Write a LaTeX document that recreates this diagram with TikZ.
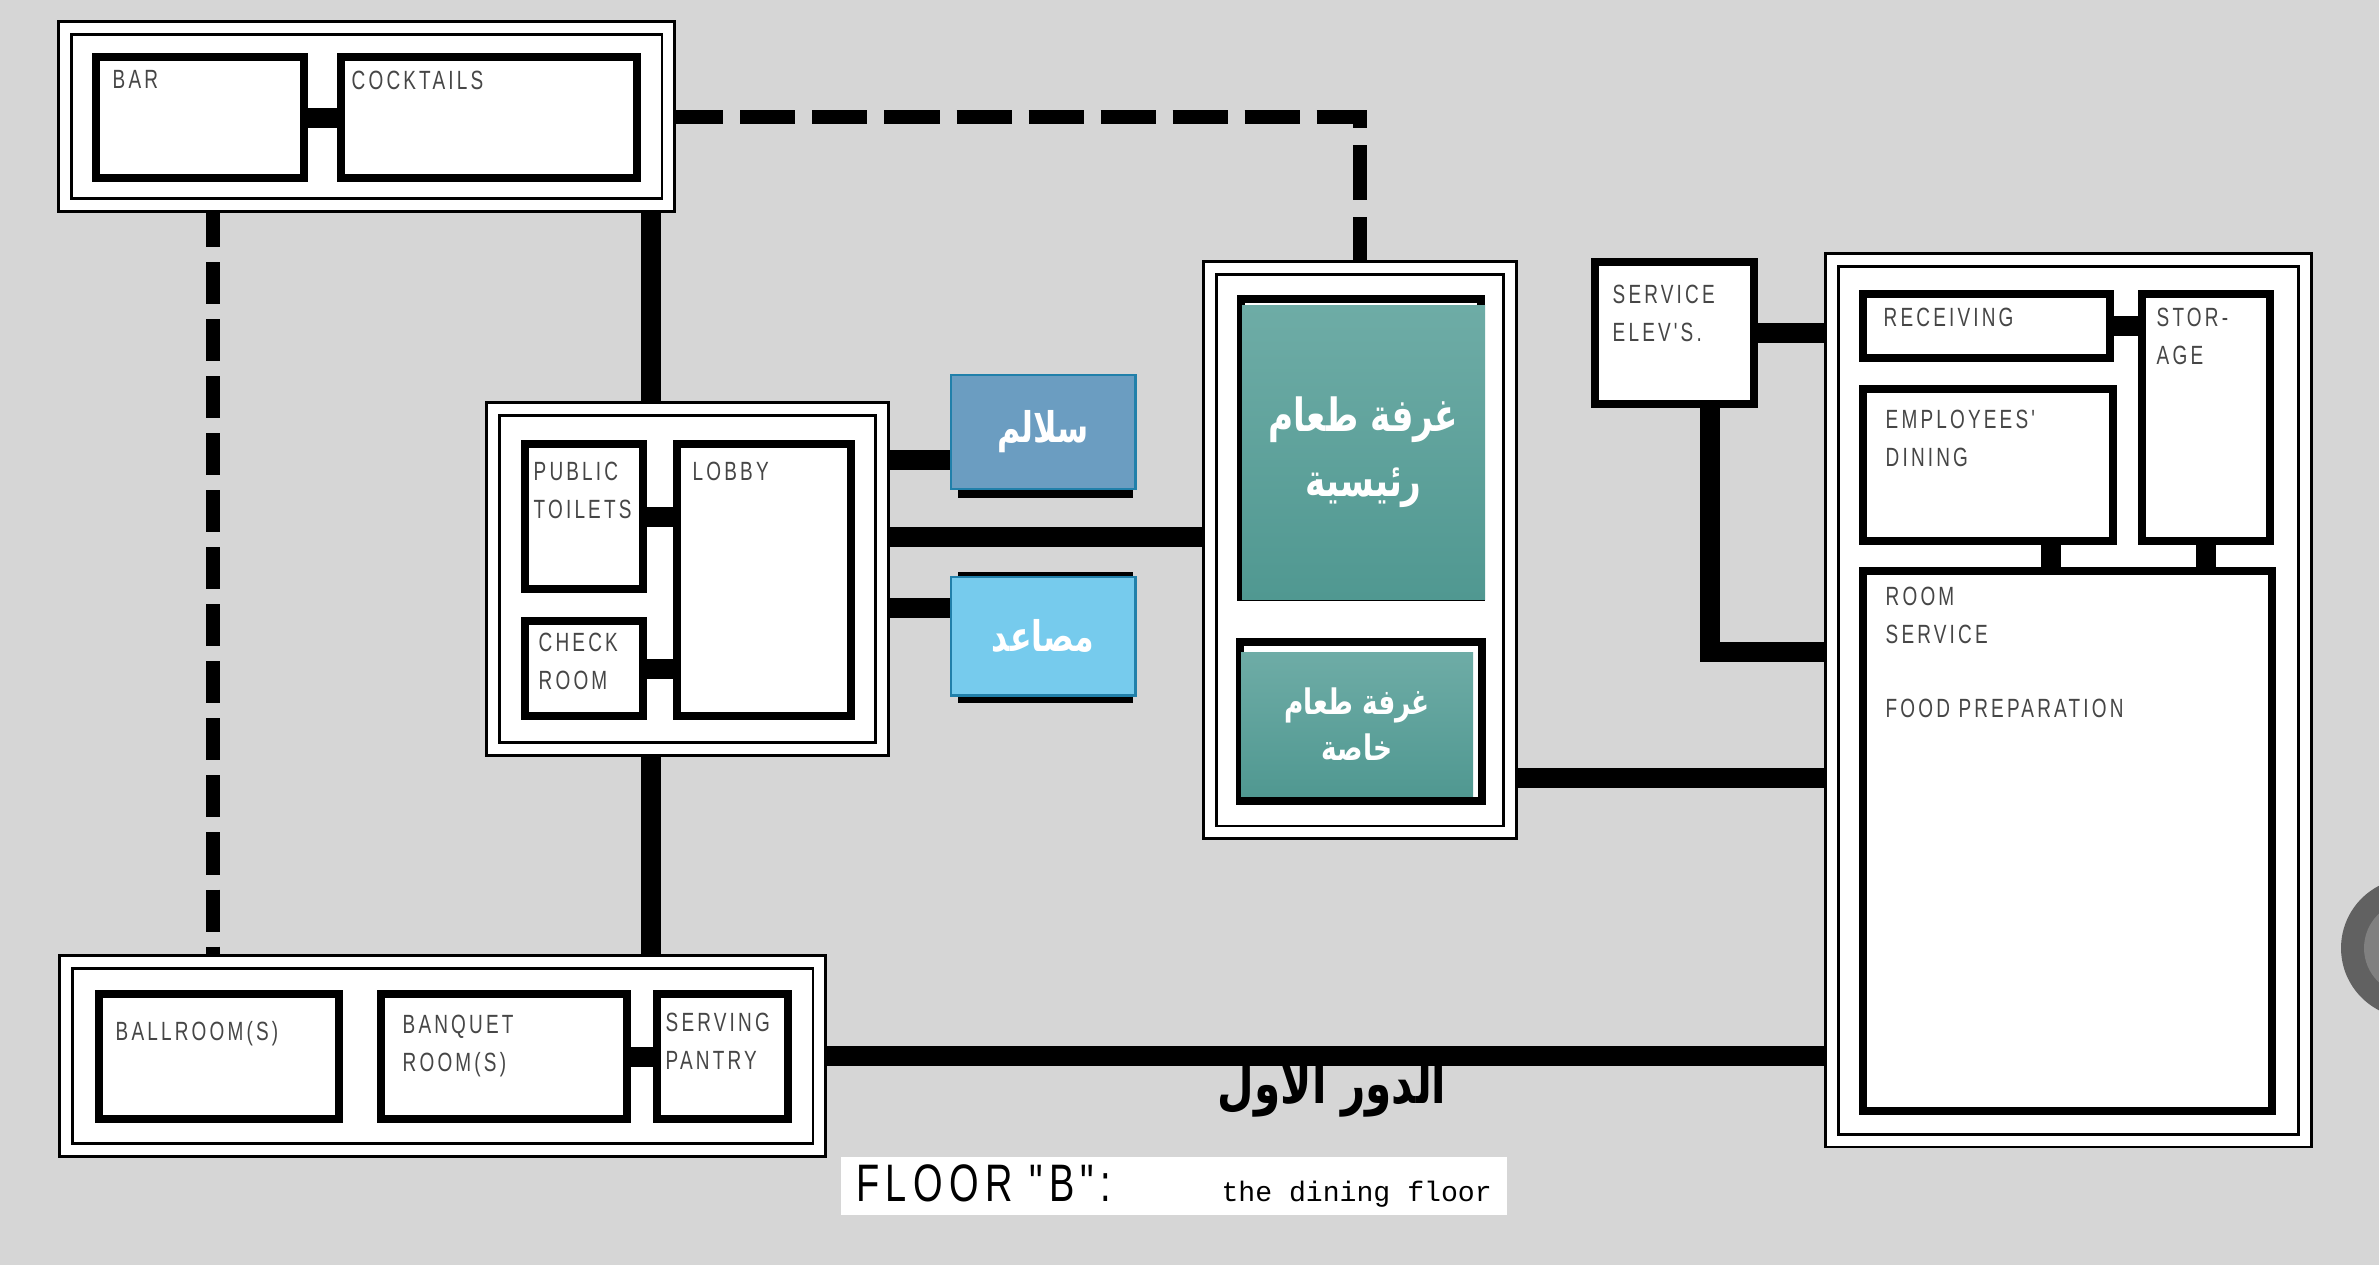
\documentclass[tikz,border=0pt]{standalone}
\usepackage{fontspec}
\usetikzlibrary{backgrounds}
\TeXXeTstate=1
\newfontfamily\planfont[FakeStretch=0.72,LetterSpace=12]{Liberation Sans}
\newfontfamily\capmono{Liberation Mono}
\newfontfamily\arabicfont[Script=Arabic,FakeStretch=0.75]{DejaVu Sans}
\definecolor{paper}{RGB}{214,214,214}
\definecolor{ink}{RGB}{70,70,70}
\definecolor{tealtop}{RGB}{110,172,166}
\definecolor{tealbot}{RGB}{80,152,145}
\definecolor{stairblue}{RGB}{107,157,193}
\definecolor{liftblue}{RGB}{118,203,237}
\definecolor{edgeblue}{RGB}{33,128,170}
\tikzstyle{grp} = [draw=black, line width=0.8pt, double=white, double distance=0.1cm,
fill=white, inner sep=0pt, outer sep=0pt, anchor=north west]
\tikzstyle{room} = [draw=black, line width=2.3pt, fill=white,
inner sep=0pt, outer sep=0pt, anchor=north west]
\tikzstyle{tag} = [font=\planfont\fontsize{7.5}{11}\selectfont, text=ink,
align=left, inner sep=0pt, anchor=north west]
\tikzstyle{tealbox} = [top color=tealtop, bottom color=tealbot, text=white, align=center,
inner sep=0pt, outer sep=0pt, anchor=north west,
font=\arabicfont\bfseries\fontsize{13}{18.5}\selectfont]
\tikzstyle{bluebox} = [draw=edgeblue, line width=0.8pt, text=white,
inner sep=0pt, outer sep=0pt, anchor=north west,
font=\arabicfont\bfseries\fontsize{12}{12}\selectfont]
\tikzstyle{link} = [line width=5.7pt]
\tikzstyle{dlink} = [line width=4pt]

\begin{document}
\begin{tikzpicture}[x=0.01cm, y=-0.01cm] % one unit = one pixel
\useasboundingbox (0,0) rectangle (2379,1265);

% bar and cocktails
\node[grp, minimum width=6.03cm, minimum height=1.77cm] (bargrp) at (65,28) {};
\node[room, minimum width=2.08cm, minimum height=1.21cm] (bar) at (96,57) {};
\node[room, minimum width=2.96cm, minimum height=1.21cm] (cocktails) at (341,57) {};
\node[tag] (bartx) at ([shift={(16,13)}]bar.north west) {BAR};
\node[tag] (cocktailstx) at ([shift={(10,13)}]cocktails.north west) {COCKTAILS};
\draw[link] (bar.east) -- (cocktails.west);

% lobby
\node[grp, minimum width=3.89cm, minimum height=3.40cm] (lobbygrp) at (493,409) {};
\node[room, minimum width=1.18cm, minimum height=1.45cm] (toilets) at (525,444) {};
\node[room, minimum width=1.18cm, minimum height=0.95cm] (checkrm) at (525,621) {};
\node[room, minimum width=1.74cm, minimum height=2.72cm] (lobby) at (677,444) {};
\node[tag] (toiletstx) at ([shift={(8,17)}]toilets.north west) {PUBLIC\\TOILETS};
\node[tag] (checkrmtx) at ([shift={(13,11)}]checkrm.north west) {CHECK\\ROOM};
\node[tag] (lobbytx) at ([shift={(15,17)}]lobby.north west) {LOBBY};
\draw[link] (toilets.east) -- (lobby.west |- toilets.east);
\draw[link] (checkrm.east) -- (lobby.west |- checkrm.east);

% stairs and lifts
\node[room, minimum width=1.67cm, minimum height=1.10cm] (stairrm) at (962,384) {};
\node[bluebox, fill=stairblue, minimum width=1.84cm, minimum height=1.14cm] (stairs) at (951,375) {\beginR سلالم\endR};
\node[room, minimum width=1.67cm, minimum height=1.23cm] (liftrm) at (962,576) {};
\node[bluebox, fill=liftblue, minimum width=1.84cm, minimum height=1.18cm] (lifts) at (951,577) {\beginR مصاعد\endR};

% dining rooms
\node[grp, minimum width=3.00cm, minimum height=5.64cm] (maingrp) at (1210,268) {};
\node[room, minimum width=2.40cm, minimum height=2.98cm] (mainrm) at (1241,299) {};
\node[tealbox, minimum width=2.43cm, minimum height=2.94cm] (maintl) at (1242,305)
{\beginR غرفة طعام\endR\\\beginR رئيسية\endR};
\node[room, minimum width=2.42cm, minimum height=1.59cm] (privrm) at (1240,642) {};
\node[tealbox, font=\arabicfont\bfseries\fontsize{10}{13}\selectfont,
minimum width=2.32cm, minimum height=1.44cm] (privtl) at (1241,652)
{\beginR غرفة طعام\endR\\\beginR خاصة\endR};

% service elevators
\node[room, minimum width=1.59cm, minimum height=1.42cm] (servelev) at (1595,262) {};
\node[tag] (servelevtx) at ([shift={(17,22)}]servelev.north west) {SERVICE\\ELEV'S.};

% kitchen
\node[grp, minimum width=4.73cm, minimum height=8.80cm] (kitchengrp) at (1832,260) {};
\node[room, minimum width=2.47cm, minimum height=0.64cm] (recv) at (1863,294) {};
\node[room, minimum width=1.28cm, minimum height=2.47cm] (stor) at (2142,294) {};
\node[room, minimum width=2.50cm, minimum height=1.52cm] (emp) at (1863,389) {};
\node[room, minimum width=4.09cm, minimum height=5.40cm] (roomsvc) at (1863,571) {};
\node[tag] (recvtx) at ([shift={(20,13)}]recv.north west) {RECEIVING};
\node[tag] (stortx) at ([shift={(14,13)}]stor.north west) {STOR-\\AGE};
\node[tag] (emptx) at ([shift={(22,20)}]emp.north west) {EMPLOYEES'\\DINING};
\node[tag] (roomsvctx) at ([shift={(22,15)}]roomsvc.north west) {ROOM\\SERVICE\\[10pt]FOOD PREPARATION};
\coordinate (empdoor) at ([xshift=0.63cm]emp.south);
\draw[link] (recv.east) -- (stor.west |- recv.east);
\draw[link] (empdoor) -- (empdoor |- roomsvc.north);
\draw[link] (stor.south) -- (stor.south |- roomsvc.north);

% ballroom
\node[grp, minimum width=7.53cm, minimum height=1.88cm] (ballgrp) at (66,962) {};
\node[room, minimum width=2.40cm, minimum height=1.25cm] (ballrm) at (99,994) {};
\node[room, minimum width=2.46cm, minimum height=1.25cm] (banq) at (381,994) {};
\node[room, minimum width=1.31cm, minimum height=1.25cm] (pantry) at (657,994) {};
\node[tag] (ballrmtx) at ([shift={(16,27)}]ballrm.north west) {BALLROOM(S)};
\node[tag] (banqtx) at ([shift={(21,20)}]banq.north west) {BANQUET\\ROOM(S)};
\node[tag] (pantrytx) at ([shift={(8,18)}]pantry.north west) {SERVING\\PANTRY};
\draw[link] (banq.east) -- (pantry.west);

% titles
\node[font=\arabicfont\bfseries\fontsize{16}{16}\selectfont] (floorar) at (1332,1089) {\beginR الدور الاول\endR};
\node[fill=white, inner sep=0pt, minimum width=6.66cm, minimum height=0.58cm] (floorcap) at (1174,1186)
{\makebox[6.35cm][l]{\planfont\fontsize{15}{15}\selectfont FLOOR "B":\hfill\capmono\fontsize{8}{8}\selectfont the dining floor}};

% connectors behind the blocks
\begin{pgfonlayer}{background}
\fill[paper] (0,0) rectangle (2379,1265);
\fill[black!62] (2411,948) circle (70);
\fill[black!50] (2411,948) circle (47);
\coordinate (spine) at (651,0);
\coordinate (ldash) at (213,0);
\coordinate (servdoor) at ([xshift=0.35cm]servelev.south);
\draw[dlink, dash pattern=on 0.55cm off 0.17cm] (bargrp.east) -| (maingrp.north);
\draw[dlink, dash pattern=on 0.42cm off 0.15cm] (ldash |- bargrp.south) -- (ldash |- ballgrp.north);
\draw[link] (spine |- bargrp.south) -- (spine |- lobbygrp.north);
\draw[link] (spine |- lobbygrp.south) -- (spine |- ballgrp.north);
\draw[link] (lobbygrp.east |- 0,460) -- (stairs.west |- 0,460);
\draw[link] (lobbygrp.east |- 0,537) -- (maingrp.west |- 0,537);
\draw[link] (lobbygrp.east |- 0,608) -- (lifts.west |- 0,608);
\draw[link] (maingrp.east |- 0,778) -- (kitchengrp.west |- 0,778);
\draw[link] (ballgrp.east) -- (kitchengrp.west |- ballgrp.east);
\draw[link] (servelev.east) -- (kitchengrp.west |- servelev.east);
\draw[link] (servdoor) |- (kitchengrp.west |- 0,652);
\end{pgfonlayer}
\end{tikzpicture}
\end{document}
